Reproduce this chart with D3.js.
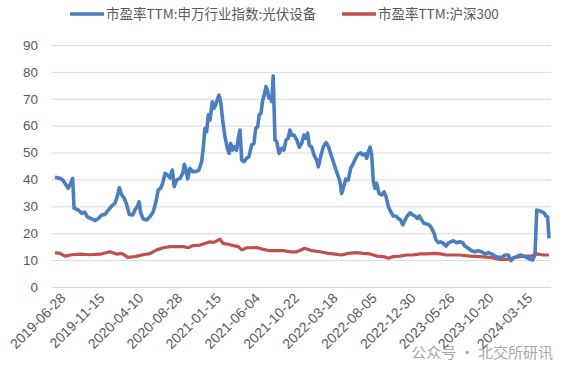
<!DOCTYPE html>
<html>
<head>
<meta charset="utf-8">
<script src="https://cdn.jsdelivr.net/npm/d3@7"></script>
<style>
  body { margin: 0; background: #fff; }
  svg { display: block; font-family: "Noto Sans CJK SC", "Noto Sans", sans-serif; }
</style>
</head>
<body>
<div id="chart"></div>
<script>
// weekly data since 2019-06-28, positions in weeks
var pvWeeks = [0, 2.6, 4.0, 5.1, 6.8, 8.0, 9.1, 9.8, 12.0, 13.7, 15.4, 16.6, 18.9, 20.6, 22.3, 24.0, 25.7, 27.4, 29.2, 30.8,
    32.0, 33.1, 34.3, 35.5, 36.9, 38.2, 39.9, 41.1, 42.3, 43.2, 44.1, 45.4, 47.1, 48.8, 50.5, 51.9, 53.1, 54.3, 55.4, 56.6,
    57.7, 59.1, 60.3, 61.3, 62.6, 64.3, 65.7, 66.5, 67.4, 68.2, 69.4, 70.8, 72.3, 74.0, 75.4, 76.2, 77.1, 78.0, 78.8, 79.7,
    80.9, 81.7, 82.6, 83.4, 84.3, 85.2, 86.2, 87.4, 88.6, 89.5, 90.3, 91.4, 92.2, 93.4, 94.2, 95.1, 96.0, 97.2, 98.6, 99.7,
    101.1, 102.3, 103.2, 104.2, 105.0, 105.9, 106.8, 107.6, 108.5, 109.2, 110.0, 110.9, 111.4, 112.2, 113.1, 114.0, 115.2, 116.6, 117.7, 118.8,
    119.9, 120.8, 121.7, 122.9, 124.3, 125.6, 126.8, 128.0, 129.0, 129.9, 130.7, 132.0, 133.2, 134.5, 135.4, 136.6, 137.9, 139.3, 140.5, 141.7,
    143.1, 144.5, 145.7, 146.5, 147.4, 148.2, 149.5, 150.8, 152.0, 153.4, 154.6, 155.9, 157.2, 158.2, 159.4, 160.3, 161.1, 162.0, 162.8, 163.7,
    164.5, 165.4, 166.6, 168.0, 169.2, 170.2, 171.4, 172.6, 173.9, 175.3, 176.5, 177.7, 178.8, 180.0, 181.1, 182.5, 183.9, 185.1, 186.3, 187.3,
    188.5, 189.7, 191.1, 192.4, 193.7, 194.9, 195.9, 197.1, 198.3, 199.6, 201.0, 202.2, 203.4, 204.8, 206.5, 208.2, 209.6, 210.8, 212.5, 214.2,
    215.9, 217.6, 219.4, 221.1, 222.8, 224.5, 226.2, 227.9, 229.7, 231.4, 233.1, 234.4, 235.6, 237.4, 239.1, 240.8, 242.5, 244.2, 245.6, 246.8,
    247.7, 249.0, 250.2, 251.4, 252.4, 253.3, 254.0];
var pvValues = [40.8, 40.4, 39.8, 38.6, 36.7, 38.5, 40.4, 29.3, 28.6, 27.4, 27.8, 26.1, 25.3, 24.7, 25.5, 26.8, 27.0, 28.6, 30.2, 31.1,
    33.6, 36.9, 34.2, 33.2, 30.5, 27.0, 26.8, 28.6, 29.9, 31.7, 27.4, 25.3, 24.9, 26.1, 28.0, 31.7, 36.1, 36.7, 38.6, 42.3,
    41.7, 40.6, 43.5, 37.3, 39.8, 40.4, 42.3, 45.6, 43.5, 40.2, 44.1, 42.9, 42.9, 43.5, 46.6, 51.6, 59.0, 57.8, 64.0, 62.1,
    68.9, 66.4, 67.7, 69.5, 71.4, 68.9, 62.1, 55.9, 51.6, 49.7, 53.4, 50.9, 52.2, 50.9, 55.3, 58.4, 47.2, 46.6, 47.9, 48.5,
    52.8, 53.4, 59.0, 59.6, 64.0, 64.6, 69.5, 71.4, 74.5, 73.3, 70.2, 70.8, 68.9, 78.5, 54.7, 54.1, 49.7, 51.6, 50.9, 54.7,
    55.3, 58.4, 56.5, 56.5, 54.7, 52.0, 53.4, 56.5, 55.3, 57.2, 52.8, 52.0, 49.1, 47.2, 44.7, 48.5, 52.0, 53.7, 52.4, 49.7,
    46.6, 43.5, 41.0, 39.2, 34.8, 36.7, 40.1, 39.8, 44.1, 46.0, 47.9, 49.5, 49.9, 49.1, 49.5, 47.9, 50.3, 52.0, 49.1, 39.2,
    36.7, 38.6, 34.8, 34.2, 35.4, 33.6, 29.9, 28.0, 26.4, 26.4, 25.5, 24.9, 23.1, 24.9, 26.4, 27.6, 26.8, 26.4, 25.5, 26.4,
    24.9, 23.7, 23.4, 23.1, 21.8, 20.0, 17.5, 16.5, 16.8, 16.3, 15.2, 16.3, 16.8, 17.2, 16.5, 16.8, 16.5, 15.2, 14.4, 13.5,
    13.1, 13.5, 13.1, 12.3, 12.8, 12.3, 11.5, 11.0, 11.0, 11.9, 11.9, 9.8, 10.7, 11.3, 11.9, 11.5, 11.0, 10.3, 10.0, 11.9,
    28.6, 28.4, 28.0, 27.6, 26.4, 26.1, 18.1];

var hsWeeks = [0, 2.6, 5.1, 8.7, 12.9, 18.0, 23.1, 28.3, 31.9, 34.4, 37.5, 41.1, 45.2, 48.8, 52.3, 55.7, 59.1, 62.6, 65.8, 68.5,
    71.1, 74.6, 77.1, 79.7, 81.4, 83.1, 84.8, 86.5, 89.1, 91.7, 94.2, 96.0, 98.6, 101.1, 103.7, 107.1, 110.5, 117.4, 120.8, 124.3,
    128.5, 132.0, 136.2, 140.5, 144.0, 147.4, 150.8, 155.1, 158.5, 162.0, 165.4, 168.8, 171.4, 173.9, 177.4, 180.8, 184.2, 187.7, 191.1, 194.5,
    197.9, 201.4, 204.8, 208.2, 213.4, 218.5, 223.7, 228.8, 233.1, 236.5, 240.8, 245.1, 247.7, 251.1, 254.0];
var hsValues = [12.8, 12.5, 11.5, 12.0, 12.2, 12.0, 12.2, 13.1, 12.2, 12.5, 11.0, 11.3, 12.0, 12.4, 13.8, 14.6, 15.0, 15.0, 15.0, 14.6,
    15.4, 15.6, 16.2, 16.8, 16.6, 17.1, 17.8, 16.2, 15.9, 15.4, 15.0, 13.8, 14.6, 14.6, 14.7, 14.0, 13.5, 13.5, 13.1, 13.1,
    14.4, 13.5, 13.1, 12.5, 12.2, 11.9, 12.5, 12.8, 12.5, 12.3, 11.5, 11.3, 10.7, 11.3, 11.5, 11.9, 11.9, 12.3, 12.3, 12.5,
    12.3, 11.9, 11.9, 11.9, 11.5, 11.3, 11.0, 10.3, 10.3, 11.0, 11.5, 11.5, 12.3, 11.9, 11.9];

var tickWeeks = [0, 20, 40, 60, 80, 100, 120, 140, 160, 180, 200, 220, 240];
var tickLabels = ["2019-06-28", "2019-11-15", "2020-04-10", "2020-08-28", "2021-01-15", "2021-06-04", "2021-10-22",
    "2022-03-18", "2022-08-05", "2022-12-30", "2023-05-26", "2023-10-20", "2024-03-15"];
var yTicks = [0, 10, 20, 30, 40, 50, 60, 70, 80, 90];

var seriesNames = ["市盈率TTM:申万行业指数:光伏设备", "市盈率TTM:沪深300"];
var seriesColors = ["#4a7ebf", "#c0504d"];

var W = 562, H = 374;
var svg = d3.select("#chart").append("svg").attr("width", W).attr("height", H);
svg.append("rect").attr("width", W).attr("height", H).attr("fill", "#fff");

var x = d3.scaleLinear().domain([0, 254]).range([55, 549]);
var y = d3.scaleLinear().domain([0, 90]).range([287, 45]);

// gridlines + y labels
var yAxis = svg.append("g").attr("transform", "translate(52,0)")
    .call(d3.axisLeft(y).tickValues(yTicks).tickSize(-499).tickPadding(14));
yAxis.select(".domain").remove();
yAxis.selectAll(".tick line").attr("stroke", "#d9d9d9").attr("stroke-width", 1);
yAxis.selectAll(".tick text").attr("fill", "#595959").style("font-size", "13.5px");

// x labels
var xAxis = svg.append("g").attr("transform", "translate(0,291)")
    .call(d3.axisBottom(x).tickValues(tickWeeks).tickSize(0).tickFormat(function (d, i) { return tickLabels[i]; }));
xAxis.select(".domain").remove();
xAxis.selectAll(".tick text")
    .attr("fill", "#595959").style("font-size", "14px")
    .attr("text-anchor", "end")
    .attr("dy", "0.75em").attr("dx", "0.15em")
    .attr("transform", "rotate(-45)");

var line = d3.line()
    .x(function (d) { return x(d[0]); })
    .y(function (d) { return y(d[1]); });

var pvData = d3.zip(pvWeeks, pvValues);
var hsData = d3.zip(hsWeeks, hsValues);

svg.append("path").datum(hsData).attr("d", line)
    .attr("fill", "none").attr("stroke", seriesColors[1]).attr("stroke-width", 3.2)
    .attr("stroke-linejoin", "round");
svg.append("path").datum(pvData).attr("d", line)
    .attr("fill", "none").attr("stroke", seriesColors[0]).attr("stroke-width", 3.6)
    .attr("stroke-linejoin", "round");

// legend
var legendX = [70, 342];
var legend = svg.append("g").selectAll("g").data(seriesNames).enter().append("g")
    .attr("transform", function (d, i) { return "translate(" + legendX[i] + ",14)"; });
legend.append("line").attr("x1", 0).attr("x2", 34).attr("y1", 0).attr("y2", 0)
    .attr("stroke", function (d, i) { return seriesColors[i]; }).attr("stroke-width", 3.6);
legend.append("text").attr("x", 36).attr("y", 5)
    .attr("fill", "#595959").style("font-size", "13.5px")
    .text(function (d) { return d; });

// watermark
svg.append("text").attr("x", 553).attr("y", 358).attr("text-anchor", "end")
    .attr("fill", "#8c8c8c").attr("opacity", 0.75).style("font-size", "15px")
    .text("公众号 · 北交所研讯");
</script>
</body>
</html>
